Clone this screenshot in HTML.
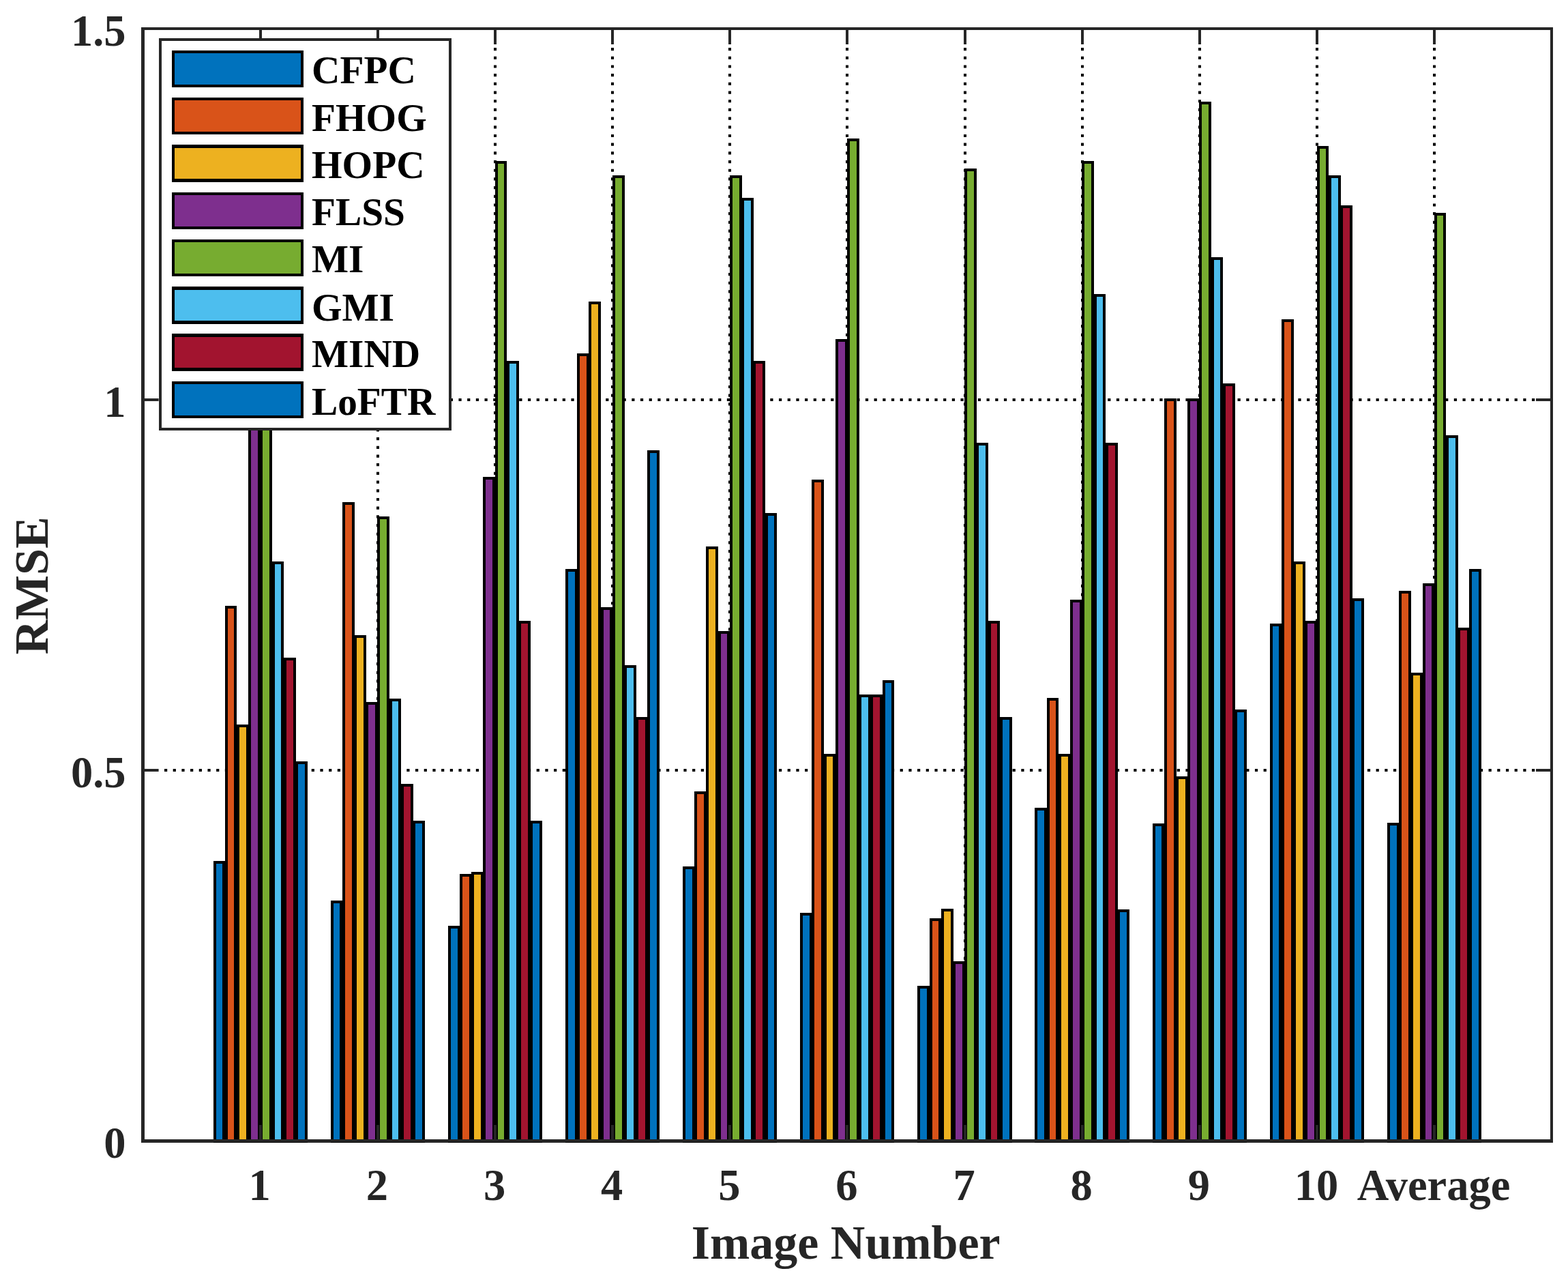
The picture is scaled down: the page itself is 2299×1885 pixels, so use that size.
<!DOCTYPE html>
<html lang="en"><head><meta charset="utf-8"><title>RMSE by Image Number</title>
<style>html,body{margin:0;padding:0;background:#fff}body{width:2299px;height:1885px;overflow:hidden}svg{display:block}text{font-family:"Liberation Serif","Times New Roman",Times,serif;font-weight:bold}.t{font-size:64.5px;fill:#262626}.l{font-size:57.3px;fill:#000}.a{font-size:70px;fill:#262626}</style></head><body>
<svg width="2299" height="1885" viewBox="0 0 2299 1885">
<rect x="0" y="0" width="2299" height="1885" fill="#fff"/>
<g stroke="#000" stroke-width="4" stroke-dasharray="4.2 8.49" fill="none">
<line x1="382" y1="44.62" x2="382" y2="1670"/>
<line x1="554" y1="44.62" x2="554" y2="1670"/>
<line x1="726" y1="44.62" x2="726" y2="1670"/>
<line x1="898" y1="44.62" x2="898" y2="1670"/>
<line x1="1070" y1="44.62" x2="1070" y2="1670"/>
<line x1="1242" y1="44.62" x2="1242" y2="1670"/>
<line x1="1415" y1="44.62" x2="1415" y2="1670"/>
<line x1="1587" y1="44.62" x2="1587" y2="1670"/>
<line x1="1759" y1="44.62" x2="1759" y2="1670"/>
<line x1="1931" y1="44.62" x2="1931" y2="1670"/>
<line x1="2103" y1="44.62" x2="2103" y2="1670"/>
<line x1="215.62" y1="1129" x2="2273" y2="1129"/>
<line x1="215.62" y1="586" x2="2273" y2="586"/>
</g>
<path fill="#000" d="M313 1262H330V1675H313ZM330 888H347V1675H330ZM347 1062H365V1675H347ZM364 584H382V1675H364ZM381 584H399V1675H381ZM399 823H416V1675H399ZM416 964H434V1675H416ZM433 1116H451V1675H433ZM485 1320H502V1675H485ZM502 736H520V1675H502ZM519 931H537V1675H519ZM536 1029H554V1675H536ZM553 757H571V1675H553ZM571 1024H588V1675H571ZM588 1149H606V1675H588ZM605 1203H623V1675H605ZM657 1357H675V1675H657ZM674 1281H692V1675H674ZM691 1278H709V1675H691ZM708 699H726V1675H708ZM726 236H743V1675H726ZM743 529H761V1675H743ZM760 910H778V1675H760ZM777 1203H795V1675H777ZM829 834H847V1675H829ZM846 518H864V1675H846ZM863 442H881V1675H863ZM881 890H898V1675H881ZM898 257H916V1675H898ZM915 975H933V1675H915ZM932 1051H950V1675H932ZM949 660H967V1675H949ZM1001 1270H1019V1675H1001ZM1018 1160H1036V1675H1018ZM1035 801H1053V1675H1035ZM1053 925H1070V1675H1053ZM1070 257H1088V1675H1070ZM1087 290H1105V1675H1087ZM1104 529H1122V1675H1104ZM1122 752H1139V1675H1122ZM1173 1338H1191V1675H1173ZM1190 703H1208V1675H1190ZM1208 1105H1225V1675H1208ZM1225 497H1243V1675H1225ZM1242 203H1260V1675H1242ZM1259 1018H1277V1675H1259ZM1276 1018H1294V1675H1276ZM1294 997H1311V1675H1294ZM1345 1445H1363V1675H1345ZM1363 1346H1380V1675H1363ZM1380 1332H1398V1675H1380ZM1397 1409H1415V1675H1397ZM1414 247H1432V1675H1414ZM1431 649H1449V1675H1431ZM1449 910H1466V1675H1449ZM1466 1051H1484V1675H1466ZM1517 1184H1535V1675H1517ZM1535 1023H1552V1675H1535ZM1552 1105H1570V1675H1552ZM1569 879H1587V1675H1569ZM1586 236H1604V1675H1586ZM1604 431H1621V1675H1604ZM1621 649H1639V1675H1621ZM1638 1333H1656V1675H1638ZM1690 1207H1707V1675H1690ZM1707 584H1725V1675H1707ZM1724 1138H1742V1675H1724ZM1741 584H1759V1675H1741ZM1758 149H1776V1675H1758ZM1776 377H1793V1675H1776ZM1793 562H1811V1675H1793ZM1810 1040H1828V1675H1810ZM1862 914H1879V1675H1862ZM1879 468H1897V1675H1879ZM1896 823H1914V1675H1896ZM1913 910H1931V1675H1913ZM1931 214H1948V1675H1931ZM1948 257H1966V1675H1948ZM1965 301H1983V1675H1965ZM1982 877H2000V1675H1982ZM2034 1206H2052V1675H2034ZM2051 866H2069V1675H2051ZM2068 986H2086V1675H2068ZM2086 855H2103V1675H2086ZM2103 312H2120V1675H2103ZM2120 638H2138V1675H2120ZM2137 920H2155V1675H2137ZM2154 834H2172V1675H2154Z"/>
<path fill="#0072BD" d="M317 1266H326V1670H317ZM489 1324H498V1670H489ZM661 1361H671V1670H661ZM833 838H843V1670H833ZM1005 1274H1015V1670H1005ZM1177 1342H1187V1670H1177ZM1349 1449H1359V1670H1349ZM1521 1188H1531V1670H1521ZM1694 1211H1703V1670H1694ZM1866 918H1875V1670H1866ZM2038 1210H2048V1670H2038ZM437 1120H447V1670H437ZM609 1207H619V1670H609ZM781 1207H791V1670H781ZM953 664H963V1670H953ZM1126 756H1135V1670H1126ZM1298 1001H1307V1670H1298ZM1470 1055H1480V1670H1470ZM1642 1337H1652V1670H1642ZM1814 1044H1824V1670H1814ZM1986 881H1996V1670H1986ZM2158 838H2168V1670H2158Z"/>
<path fill="#D95319" d="M334 892H343V1670H334ZM506 740H516V1670H506ZM678 1285H688V1670H678ZM850 522H860V1670H850ZM1022 1164H1032V1670H1022ZM1194 707H1204V1670H1194ZM1367 1350H1376V1670H1367ZM1539 1027H1548V1670H1539ZM1711 588H1721V1670H1711ZM1883 472H1893V1670H1883ZM2055 870H2065V1670H2055Z"/>
<path fill="#EDB120" d="M351 1066H361V1670H351ZM523 935H533V1670H523ZM695 1282H705V1670H695ZM867 446H877V1670H867ZM1039 805H1049V1670H1039ZM1212 1109H1221V1670H1212ZM1384 1336H1394V1670H1384ZM1556 1109H1566V1670H1556ZM1728 1142H1738V1670H1728ZM1900 827H1910V1670H1900ZM2072 990H2082V1670H2072Z"/>
<path fill="#7E2F8E" d="M368 588H378V1670H368ZM540 1033H550V1670H540ZM712 703H722V1670H712ZM885 894H894V1670H885ZM1057 929H1066V1670H1057ZM1229 501H1239V1670H1229ZM1401 1413H1411V1670H1401ZM1573 883H1583V1670H1573ZM1745 588H1755V1670H1745ZM1917 914H1927V1670H1917ZM2090 859H2099V1670H2090Z"/>
<path fill="#77AC30" d="M385 588H395V1670H385ZM557 761H567V1670H557ZM730 240H739V1670H730ZM902 261H912V1670H902ZM1074 261H1084V1670H1074ZM1246 207H1256V1670H1246ZM1418 251H1428V1670H1418ZM1590 240H1600V1670H1590ZM1762 153H1772V1670H1762ZM1935 218H1944V1670H1935ZM2107 316H2116V1670H2107Z"/>
<path fill="#4DBEEE" d="M403 827H412V1670H403ZM575 1028H584V1670H575ZM747 533H757V1670H747ZM919 979H929V1670H919ZM1091 294H1101V1670H1091ZM1263 1022H1273V1670H1263ZM1435 653H1445V1670H1435ZM1608 435H1617V1670H1608ZM1780 381H1789V1670H1780ZM1952 261H1962V1670H1952ZM2124 642H2134V1670H2124Z"/>
<path fill="#A2142F" d="M420 968H430V1670H420ZM592 1153H602V1670H592ZM764 914H774V1670H764ZM936 1055H946V1670H936ZM1108 533H1118V1670H1108ZM1280 1022H1290V1670H1280ZM1453 914H1462V1670H1453ZM1625 653H1635V1670H1625ZM1797 566H1807V1670H1797ZM1969 305H1979V1670H1969ZM2141 924H2151V1670H2141Z"/>
<g fill="#262626">
<rect x="207" y="40" width="5" height="1635"/>
<rect x="2273" y="40" width="4" height="1635"/>
<rect x="207" y="40" width="2070" height="4"/>
<rect x="207" y="1670" width="2070" height="4"/>
<path d="M380 44h4v21h-4zM380 1649h4v21h-4zM552 44h4v21h-4zM552 1649h4v21h-4zM724 44h4v21h-4zM724 1649h4v21h-4zM896 44h4v21h-4zM896 1649h4v21h-4zM1068 44h4v21h-4zM1068 1649h4v21h-4zM1240 44h4v21h-4zM1240 1649h4v21h-4zM1413 44h4v21h-4zM1413 1649h4v21h-4zM1585 44h4v21h-4zM1585 1649h4v21h-4zM1757 44h4v21h-4zM1757 1649h4v21h-4zM1929 44h4v21h-4zM1929 1649h4v21h-4zM2101 44h4v21h-4zM2101 1649h4v21h-4zM212 1127h20v4h-20zM2252 1127h21v4h-21zM212 584h20v4h-20zM2252 584h21v4h-21z"/>
</g>
<path fill="#262626" d="M207 1674h2070v1h-2070z"/>
<path fill="#000" d="M313 1674H451v1H313zM485 1674H623v1H485zM657 1674H795v1H657zM829 1674H967v1H829zM1001 1674H1139v1H1001zM1173 1674H1311v1H1173zM1345 1674H1484v1H1345zM1517 1674H1656v1H1517zM1690 1674H1828v1H1690zM1862 1674H2000v1H1862zM2034 1674H2172v1H2034z"/>
<g class="t" text-anchor="end">
<text x="184.60" y="1697.10">0</text>
<text x="184.60" y="1153.60">0.5</text>
<text x="184.60" y="611.10">1</text>
<text x="184.60" y="66.60">1.5</text>
</g>
<g class="t" text-anchor="middle">
<text x="380.74" y="1759.30">1</text>
<text x="552.87" y="1759.30">2</text>
<text x="725.01" y="1759.30">3</text>
<text x="897.14" y="1759.30">4</text>
<text x="1069.28" y="1759.30">5</text>
<text x="1241.41" y="1759.30">6</text>
<text x="1413.55" y="1759.30">7</text>
<text x="1585.69" y="1759.30">8</text>
<text x="1757.82" y="1759.30">9</text>
<text x="1929.96" y="1759.30">10</text>
<text x="2102.09" y="1759.30">Average</text>
</g>
<text class="a" text-anchor="middle" x="1240.20" y="1844.80">Image Number</text>
<text class="a" text-anchor="middle" transform="translate(70.20 858.40) rotate(-90)">RMSE</text>
<rect x="233" y="56" width="429" height="575" fill="#262626"/>
<rect x="237" y="60" width="421" height="567" fill="#fff"/>
<path fill="#000" d="M252 74H445V128H252ZM252 143H445V197H252ZM252 212H445V267H252ZM252 282H445V336H252ZM252 351H445V405H252ZM252 420H445V475H252ZM252 489H445V544H252ZM252 559H445V613H252Z"/>
<rect x="256" y="78" width="185" height="46" fill="#0072BD"/>
<rect x="256" y="147" width="185" height="46" fill="#D95319"/>
<rect x="256" y="217" width="185" height="45" fill="#EDB120"/>
<rect x="256" y="286" width="185" height="46" fill="#7E2F8E"/>
<rect x="256" y="355" width="185" height="46" fill="#77AC30"/>
<rect x="256" y="425" width="185" height="45" fill="#4DBEEE"/>
<rect x="256" y="494" width="185" height="45" fill="#A2142F"/>
<rect x="256" y="563" width="185" height="46" fill="#0072BD"/>
<g class="l">
<text x="457.00" y="122.20">CFPC</text>
<text x="457.00" y="191.50">FHOG</text>
<text x="457.00" y="260.80">HOPC</text>
<text x="457.00" y="330.30">FLSS</text>
<text x="457.00" y="399.10">MI</text>
<text x="457.00" y="469.60">GMI</text>
<text x="457.00" y="537.90">MIND</text>
<text x="457.00" y="607.70">LoFTR</text>
</g>
</svg></body></html>
